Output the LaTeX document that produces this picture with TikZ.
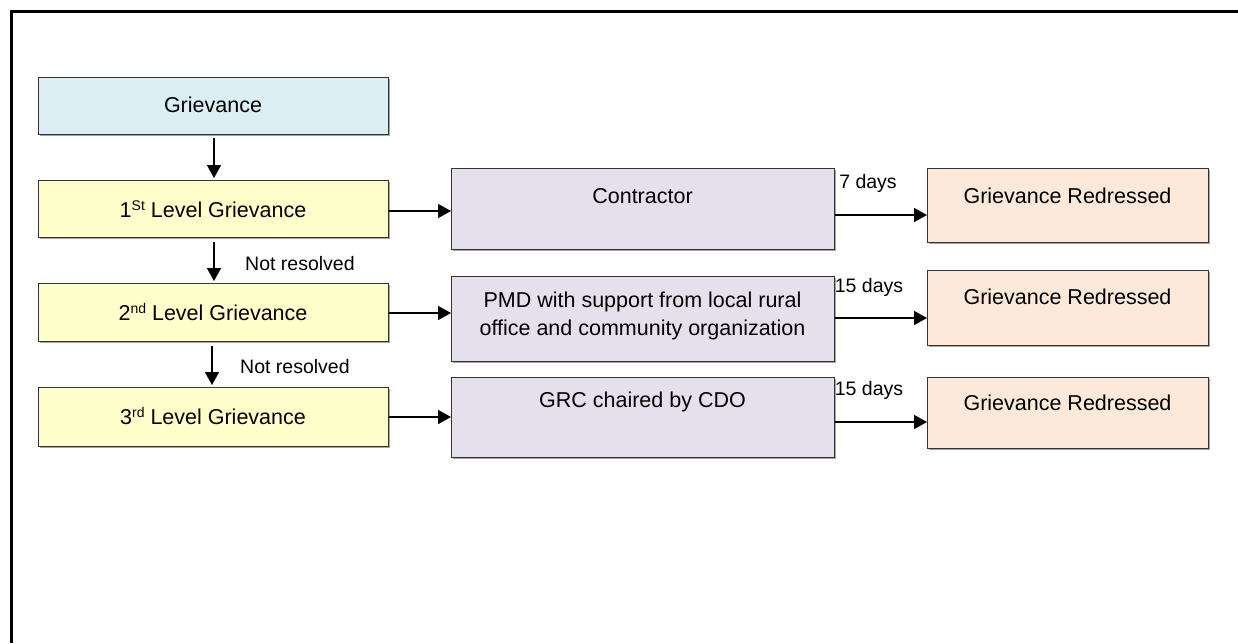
\documentclass[tikz,border=0pt]{standalone}
\usepackage{fontspec}
\setmainfont{Liberation Sans}
\usetikzlibrary{arrows.meta,shadows}
\definecolor{cblue}{HTML}{DBEEF4}
\definecolor{cyel}{HTML}{FFFFCC}
\definecolor{clav}{HTML}{E5E0EC}
\definecolor{cpeach}{HTML}{FDE9D9}
\definecolor{cborder}{HTML}{333333}
\tikzset{
  box/.style={draw=cborder, line width=1.3pt, inner sep=0pt, anchor=north west,
    drop shadow={shadow xshift=1.5pt, shadow yshift=-1.5pt, fill=gray!70, opacity=1}},
  txt/.style={font=\fontsize{21.5}{28}\selectfont, inner sep=0pt, align=center},
  small/.style={font=\fontsize{19.5}{24}\selectfont, inner sep=0pt},
  arr/.style={line width=1.6pt, -{Triangle[length=13pt,width=14pt]}},
}
\newcommand{\sps}[1]{\raisebox{0.35em}{\fontsize{14}{14}\selectfont #1}}
\begin{document}
\begin{tikzpicture}[x=1pt,y=-1pt]
\useasboundingbox (0,0) rectangle (1238,643);
% frame
\draw[line width=3pt] (11,643) -- (11,11) -- (1238,11);
% left column
\node[box, fill=cblue, minimum width=350pt, minimum height=57pt] (g) at (38,77) {};
\node[txt] (gt) at (213,105) {Grievance};
\node[box, fill=cyel, minimum width=350pt, minimum height=57pt] (l1) at (38,180) {};
\node[txt] (l1t) at (213,209) {1\sps{St} Level Grievance};
\node[box, fill=cyel, minimum width=350pt, minimum height=58pt] (l2) at (38,283) {};
\node[txt] (l2t) at (213,312) {2\sps{nd} Level Grievance};
\node[box, fill=cyel, minimum width=350pt, minimum height=59pt] (l3) at (38,387) {};
\node[txt] (l3t) at (213,416) {3\sps{rd} Level Grievance};
% middle column
\node[box, fill=clav, minimum width=383pt, minimum height=81pt] (m1) at (451,168) {};
\node[txt] (m1t) at (642.5,196) {Contractor};
\node[box, fill=clav, minimum width=383pt, minimum height=85pt] (m2) at (451,276) {};
\node[txt] (m2t) at (642.5,316) {PMD with support from local rural\\office and community organization};
\node[box, fill=clav, minimum width=383pt, minimum height=80pt] (m3) at (451,377) {};
\node[txt] (m3t) at (642.5,402) {GRC chaired by CDO};
% right column
\node[box, fill=cpeach, minimum width=281pt, minimum height=74pt] (r1) at (927,168) {};
\node[txt] (r1t) at (1067.5,196) {Grievance Redressed};
\node[box, fill=cpeach, minimum width=281pt, minimum height=75pt] (r2) at (927,270) {};
\node[txt] (r2t) at (1067.5,297) {Grievance Redressed};
\node[box, fill=cpeach, minimum width=281pt, minimum height=71pt] (r3) at (927,377) {};
\node[txt] (r3t) at (1067.5,403) {Grievance Redressed};
% vertical arrows
\coordinate (a0s) at (214,138); \coordinate (a0e) at (214,178);
\draw[arr] (a0s) -- (a0e);
\coordinate (a1s) at (214,242); \coordinate (a1e) at (214,281);
\draw[arr] (a1s) -- (a1e);
\node[small, anchor=west] (nr1) at (245,264) {Not resolved};
\coordinate (a2s) at (212,346); \coordinate (a2e) at (212,385);
\draw[arr] (a2s) -- (a2e);
\node[small, anchor=west] (nr2) at (240,367) {Not resolved};
% horizontal arrows left -> middle
\draw[arr] (l1.east |- 0,211) -- (m1.west |- 0,211);
\draw[arr] (l2.east |- 0,313) -- (m2.west |- 0,313);
\draw[arr] (l3.east |- 0,417) -- (m3.west |- 0,417);
% middle -> right
\draw[arr] (m1.east |- 0,215) -- (r1.west |- 0,215);
\draw[arr] (m2.east |- 0,318) -- (r2.west |- 0,318);
\draw[arr] (m3.east |- 0,422) -- (r3.west |- 0,422);
\node[small] (d1) at (868,183) {7 days};
\node[small] (d2) at (869,287) {15 days};
\node[small] (d3) at (869,390) {15 days};
\end{tikzpicture}
\end{document}
